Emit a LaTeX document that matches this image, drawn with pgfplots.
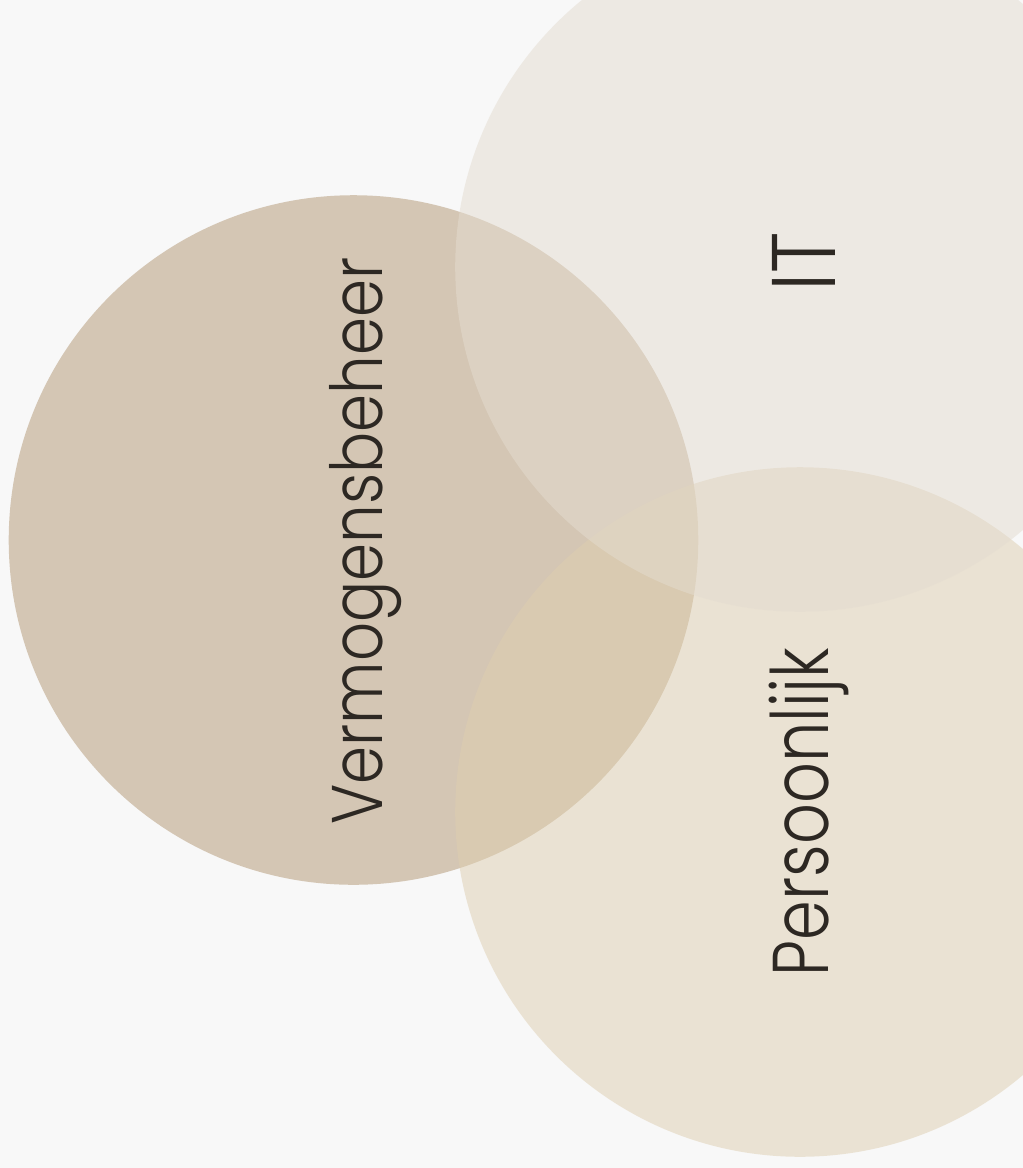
\documentclass[border=0pt]{standalone}
\usepackage{pgfplots}
\pgfplotsset{compat=1.18}
\usepackage{fontspec}
\setmainfont{Poppins}[UprightFont=*-Light]
\definecolor{bgc}{HTML}{F8F8F8}
\definecolor{vermc}{HTML}{D4C6B4}
\definecolor{persc}{HTML}{DECEB0}
\definecolor{itc}{HTML}{E4DCD0}
\definecolor{txt}{HTML}{2D2823}
\begin{document}
\begin{tikzpicture}
\begin{axis}[width=10.23cm, height=11.68cm, scale only axis,
  xmin=0, xmax=1023, ymin=0, ymax=1168, y dir=reverse,
  hide axis, clip marker paths=true]
\addplot[fill=bgc, draw=none] coordinates {(0,0) (1023,0) (1023,1168) (0,1168)} -- cycle;
% Vermogensbeheer
\addplot[only marks, draw=none, mark=*, mark size=98.1pt, mark options={draw=none, draw opacity=0, line width=0pt, fill=vermc}] coordinates {(353.5,540)};
% Persoonlijk
\addplot[only marks, draw=none, mark=*, mark size=98.1pt, mark options={draw=none, draw opacity=0, line width=0pt, fill=persc, fill opacity=0.5}] coordinates {(800,812)};
% IT
\addplot[only marks, draw=none, mark=*, mark size=98.1pt, mark options={draw=none, draw opacity=0, line width=0pt, fill=itc, fill opacity=0.5}] coordinates {(800,267)};
\node[rotate=90, anchor=base, inner sep=0pt, text=txt, font=\fontsize{20.4}{24}\selectfont] at (axis cs:382,541) {\scalebox{0.852}[1]{Vermogensbeheer}};
\node[rotate=90, anchor=base, inner sep=0pt, text=txt, font=\fontsize{25.7}{30}\selectfont] at (axis cs:835,262) {\scalebox{0.88}[1]{IT}};
\node[rotate=90, anchor=base, inner sep=0pt, text=txt, font=\fontsize{22.5}{26}\selectfont] at (axis cs:828,812) {\scalebox{0.807}[1]{Persoonlijk}};
\end{axis}
\pgfresetboundingbox
\path[use as bounding box] (current axis.south west) rectangle (current axis.north east);
\end{tikzpicture}
\end{document}
